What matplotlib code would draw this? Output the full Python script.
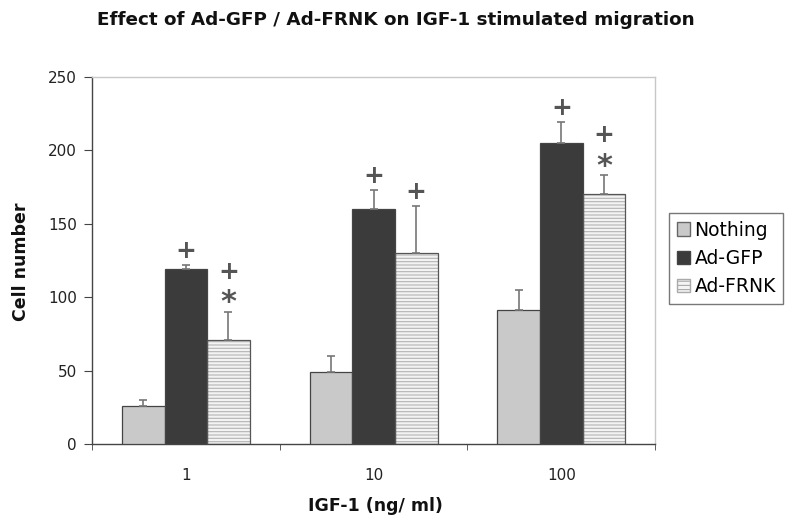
import matplotlib
matplotlib.use("Agg")
import matplotlib.pyplot as plt
import numpy as np
from matplotlib.patches import Patch

plt.rcParams['font.family'] = ['DejaVu Sans']
plt.rcParams['hatch.linewidth'] = 0.8

categories = ["1", "10", "100"]
series = ["Nothing", "Ad-GFP", "Ad-FRNK"]
nothing = [26, 49, 91]
ad_gfp = [119, 160, 205]
ad_frnk = [71, 130, 170]
nothing_err = [4, 11, 14]
ad_gfp_err = [3, 13, 14]
ad_frnk_err = [19, 32, 13]
# significance symbols above each bar, listed from bottom to top
nothing_marks = [[], [], []]
ad_gfp_marks = [["+"], ["+"], ["+"]]
ad_frnk_marks = [["*", "+"], ["+"], ["*", "+"]]

values = [nothing, ad_gfp, ad_frnk]
errors = [nothing_err, ad_gfp_err, ad_frnk_err]
marks = [nothing_marks, ad_gfp_marks, ad_frnk_marks]
fills = ["#c9c9c9", "#3b3b3b", "#f3f3f3"]
hatches = [None, None, "-----"]

fig = plt.figure(figsize=(8, 5.27), dpi=100)
ax = fig.add_axes([0.115, 0.1575, 0.704, 0.6965])

x = np.arange(len(categories))
w = 0.227
for i, (vals, errs, col, h) in enumerate(zip(values, errors, fills, hatches)):
    pos = x + (i - 1) * w
    if h:
        ax.bar(pos, vals, w, color=col, edgecolor="#b4b4b4", hatch=h, linewidth=0, zorder=2)
        ax.bar(pos, vals, w, facecolor="none", edgecolor="#555555", linewidth=0.9, zorder=3)
    else:
        ax.bar(pos, vals, w, color=col, edgecolor="#444444", linewidth=0.9, zorder=3)
    ax.errorbar(pos, vals, yerr=[np.zeros(len(vals)), errs], fmt="none",
                ecolor="#777777", elinewidth=1.2, capsize=3, capthick=1.2, zorder=4)
    for p, v, e, ms in zip(pos, vals, errs, marks[i]):
        for k, m in enumerate(ms):
            off = 9 if m == "*" else 14 + 26 * k
            ax.annotate(m, (p, v + e), xytext=(0, off * 0.72),
                        textcoords="offset points", ha="center", va="center",
                        fontsize=18 if m == "+" else 22, fontweight="bold",
                        color="#555555", zorder=5)

handles = [Patch(facecolor=fills[0], edgecolor="#666666"),
           Patch(facecolor=fills[1], edgecolor="#444444"),
           Patch(facecolor=fills[2], edgecolor="#aaaaaa", hatch="----")]
leg = ax.legend(handles, series, loc="upper left", bbox_to_anchor=(1.025, 0.629),
                frameon=True, fancybox=False, edgecolor="#555555", fontsize=13.5,
                handlelength=0.7, handleheight=0.7, handletextpad=0.25,
                borderpad=0.4, labelspacing=0.5, borderaxespad=0)
leg.get_frame().set_linewidth(1.0)

ax.set_xlim(-0.5, 2.5)
ax.set_ylim(0, 250)
ax.set_yticks(range(0, 251, 50))
ax.set_xticks(x)
ax.set_xticklabels(categories)
ax.set_xticks([-0.5, 0.5, 1.5, 2.5], minor=True)
ax.tick_params(axis="x", which="major", length=0, pad=17, labelsize=11, labelcolor="#222222")
ax.tick_params(axis="x", which="minor", length=4, color="#444444", direction="out")
ax.tick_params(axis="y", length=6, pad=5, color="#444444", labelsize=11, labelcolor="#222222",
               direction="out")

for s in ["top", "right"]:
    ax.spines[s].set_color("#c8c8c8")
    ax.spines[s].set_linewidth(1.0)
for s in ["left", "bottom"]:
    ax.spines[s].set_color("#444444")
    ax.spines[s].set_linewidth(1.0)

ax.set_xlabel("IGF-1 (ng/ ml)", fontsize=12.5, fontweight="bold", color="#111111")
ax.xaxis.set_label_coords(0.503, -0.145)
ax.set_ylabel("Cell number", fontsize=12.5, fontweight="bold", color="#111111")
ax.yaxis.set_label_coords(-0.11, 0.497)
fig.text(0.495, 0.962, "Effect of Ad-GFP / Ad-FRNK on IGF-1 stimulated migration",
         ha="center", va="center", fontsize=13.2, fontweight="bold", color="#111111")

fig.savefig("out.png", dpi=100)
